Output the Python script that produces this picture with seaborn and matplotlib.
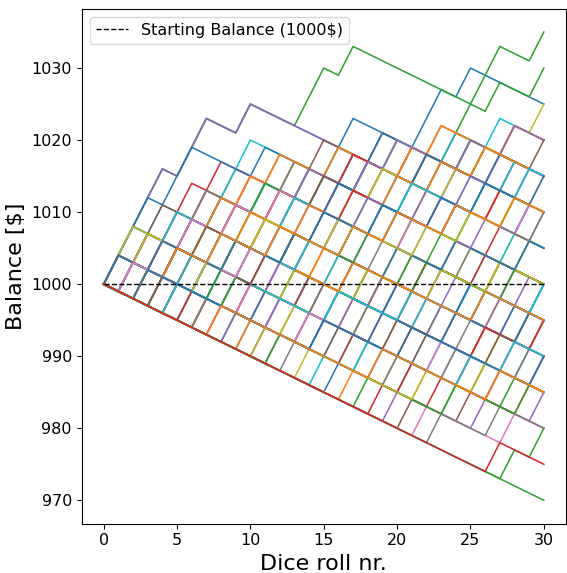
import numpy as np
import pandas as pd
import matplotlib
matplotlib.use("Agg")
import matplotlib.pyplot as plt
import seaborn as sns

# Game: start with 1000$, each roll costs 1$, a win pays +4$ net
START_BALANCE = 1000
N_ROLLS = 30
WIN_CHANGE = 4
LOSS_CHANGE = -1

# Rolls (1-based) on which each simulated player won
win_rolls = [
    [1, 2, 3, 4, 6, 7, 10, 17, 22, 23, 25],
    [2, 3, 5, 7, 10, 13, 17, 20, 28],
    [1, 2, 3, 4, 6, 7, 10, 14, 15, 17, 27, 30],
    [1, 2, 5, 6, 8, 16, 27],
    [1, 2, 3, 4, 6, 7, 10, 19, 26],
    [1, 2, 5, 7, 9, 12, 15, 19, 23],
    [1, 7, 12, 20, 26],
    [2, 3, 6, 9, 12, 14, 18, 21, 25, 28],
    [2, 3, 6, 9, 12, 14, 18, 21, 25, 28, 30],
    [1, 2, 4, 8, 9, 10, 21, 29],
    [1, 2, 3, 5, 6, 11, 18, 24],
    [1, 5, 9, 15, 16, 24, 29],
    [1, 3, 6, 8, 11, 13, 16, 20, 24, 25, 26, 27, 30],
    [1, 8, 14, 19, 22, 28],
    [1, 3, 11, 17, 25],
    [2, 4, 9, 13, 21, 27],
    [2, 6, 12, 18, 23, 24],
    [2, 10, 15, 22, 29],
    [2, 5, 8, 14, 20, 25, 28],
    [2, 7, 13, 19, 26, 30],
    [1, 4, 5, 8, 11, 14, 16, 19],
    [2, 11, 16, 21, 27],
    [2, 4, 6, 10, 17, 23, 29],
    [3, 9, 14, 18, 26],
    [3, 5, 12, 20, 24, 30],
    [3, 8, 11, 16, 22, 27],
    [3, 10, 17, 21, 28],
    [3, 6, 7, 13, 19, 25],
    [3, 12, 15, 23, 29],
    [3, 4, 9, 16, 20, 26, 28],
    [3, 7, 14, 24, 30],
    [3, 11, 18, 22, 25],
    [4, 8, 13, 17, 21, 27],
    [4, 10, 16, 19, 23, 30],
    [4, 6, 12, 18, 25, 29],
    [4, 9, 15, 20, 26],
    [4, 11, 14, 22, 28],
    [4, 5, 10, 13, 18, 24],
    [4, 7, 17, 23, 27],
    [5, 9, 16, 21, 25, 30],
    [5, 12, 19, 24, 28],
    [5, 8, 10, 15, 20, 27],
    [5, 14, 18, 23, 29],
    [5, 7, 11, 17, 22, 26],
    [5, 13, 20, 30],
    [6, 10, 14, 21, 26],
    [6, 12, 17, 24, 29],
    [6, 9, 15, 19, 23, 28],
    [6, 13, 20, 27],
    [6, 8, 16, 22, 25, 30],
    [7, 11, 16, 20, 25],
    [7, 14, 19, 24, 30],
    [7, 9, 13, 18, 22, 28],
    [7, 15, 21, 26],
    [8, 12, 17, 23, 27],
    [8, 15, 20, 26, 29],
    [8, 10, 19, 24],
    [9, 14, 18, 25, 30],
    [9, 13, 21, 27],
    [9, 16, 22, 28],
    [10, 15, 19, 24, 29],
    [10, 18, 25],
    [28, 30],
    [11, 17, 21, 26, 30],
    [11, 14, 23, 28],
    [12, 16, 22, 27],
    [12, 20, 25, 29],
    [13, 19, 24, 28],
    [14, 20, 26],
    [15, 18, 23, 29],
    [16, 21, 27],
    [17, 22, 25, 30],
    [18, 24, 28],
    [19, 23, 29],
    [20, 26, 30],
    [21, 25],
    [22, 28],
    [23, 27],
    [1, 6, 13, 18, 23, 27],
    [2, 8, 16, 21, 26],
    [1, 4, 9, 14, 20, 24, 29],
    [3, 5, 10, 17, 26],
    [1, 3, 5, 8, 11, 15, 18, 22, 27],
    [2, 4, 6, 9, 10, 14, 19, 21, 26, 28],
    [1, 2, 6, 9, 13, 16, 20, 23, 28],
    [1, 3, 4, 7, 12, 15, 17, 22, 24],
    [2, 3, 5, 8, 10, 16, 18, 23, 27],
    [1, 4, 6, 7, 11, 13, 17, 21, 25],
    [3, 4, 7, 9, 12, 14, 19, 22, 26],
    [1, 2, 5, 9, 11, 14, 17, 20, 24, 27],
    [2, 5, 6, 8, 13, 15, 18, 24, 26],
    [1, 4, 7, 8, 10, 12, 16, 21, 23, 28],
    [3, 5, 7, 10, 11, 15, 19, 23, 25],
    [2, 4, 8, 9, 12, 16, 17, 22, 27],
    [1, 3, 6, 10, 13, 14, 18, 20, 25, 28],
    [2, 3, 7, 11, 12, 15, 20, 22, 26, 30],
    [1, 5, 6, 9, 12, 17, 19, 24, 27],
    [4, 5, 8, 11, 13, 16, 21, 23, 28],
    [1, 2, 7, 10, 14, 18, 19, 24, 26],
    [3, 6, 8, 12, 13, 17, 20, 25, 28],
    [2, 5, 9, 11, 14, 16, 21, 22, 27],
    [1, 6, 8, 10, 15, 17, 20, 23, 26],
    [2, 5, 9, 13, 17, 21, 24, 28],
    [1, 4, 8, 12, 16, 19, 23, 27],
    [3, 6, 10, 14, 18, 22, 26, 29],
    [1, 5, 7, 11, 15, 20, 25, 30],
    [2, 6, 9, 12, 14, 19, 24, 27],
    [4, 7, 10, 13, 17, 20, 23, 26, 29],
    [1, 3, 8, 11, 16, 21, 25, 28],
    [2, 7, 10, 12, 15, 18, 22, 26],
    [3, 5, 9, 14, 16, 20, 24, 29],
    [1, 6, 9, 11, 14, 19, 22, 27, 30],
    [4, 8, 9, 13, 18, 21, 25, 28],
    [2, 5, 8, 13, 15, 17, 23, 27],
    [1, 7, 9, 12, 16, 18, 22, 25, 29],
    [3, 6, 11, 13, 17, 19, 24, 26],
    [2, 4, 10, 14, 16, 21, 23, 29],
    [1, 5, 8, 12, 15, 20, 24, 30],
    [3, 7, 9, 11, 16, 22, 25, 28],
    [2, 6, 8, 14, 17, 19, 21, 26, 29],
    [1, 4, 9, 13, 15, 19, 23, 26, 30],
    [3, 5, 8, 12, 17, 20, 24, 28],
    [12, 24, 29],
    [6, 21, 27],
    [9, 19, 25, 30],
    [4, 17, 26],
    [2, 14, 23, 28],
    [7, 20, 24, 29],
    [11, 22, 26],
    [5, 18, 25, 28],
    [3, 15, 21, 30],
    [8, 19, 27],
    [],
    [27],
]

rows = []
for sim, wins in enumerate(win_rolls):
    bal = START_BALANCE
    rows.append((sim, 0, bal))
    for r in range(1, N_ROLLS + 1):
        bal += WIN_CHANGE if r in wins else LOSS_CHANGE
        rows.append((sim, r, bal))
df = pd.DataFrame(rows, columns=["sim", "roll", "balance"])

tab = sns.color_palette("tab10")
palette = {i: tab[i % 10] for i in range(len(win_rolls))}

fig, ax = plt.subplots(figsize=(5.67, 5.73), dpi=100)
sns.lineplot(data=df, x="roll", y="balance", hue="sim", palette=palette,
             legend=False, estimator=None, sort=False, lw=1.1, ax=ax)
ax.plot([0, N_ROLLS], [START_BALANCE, START_BALANCE], "k--", lw=1.0,
        label="Starting Balance (1000$)")
ax.legend(loc="upper left", fontsize=11.5)
ax.set_xlabel("Dice roll nr.", fontsize=16)
ax.set_ylabel("Balance [$]", fontsize=16)
ax.tick_params(labelsize=11.5)
fig.subplots_adjust(left=0.144, right=0.998, bottom=0.086, top=0.985)
fig.savefig("out.png", dpi=100)
